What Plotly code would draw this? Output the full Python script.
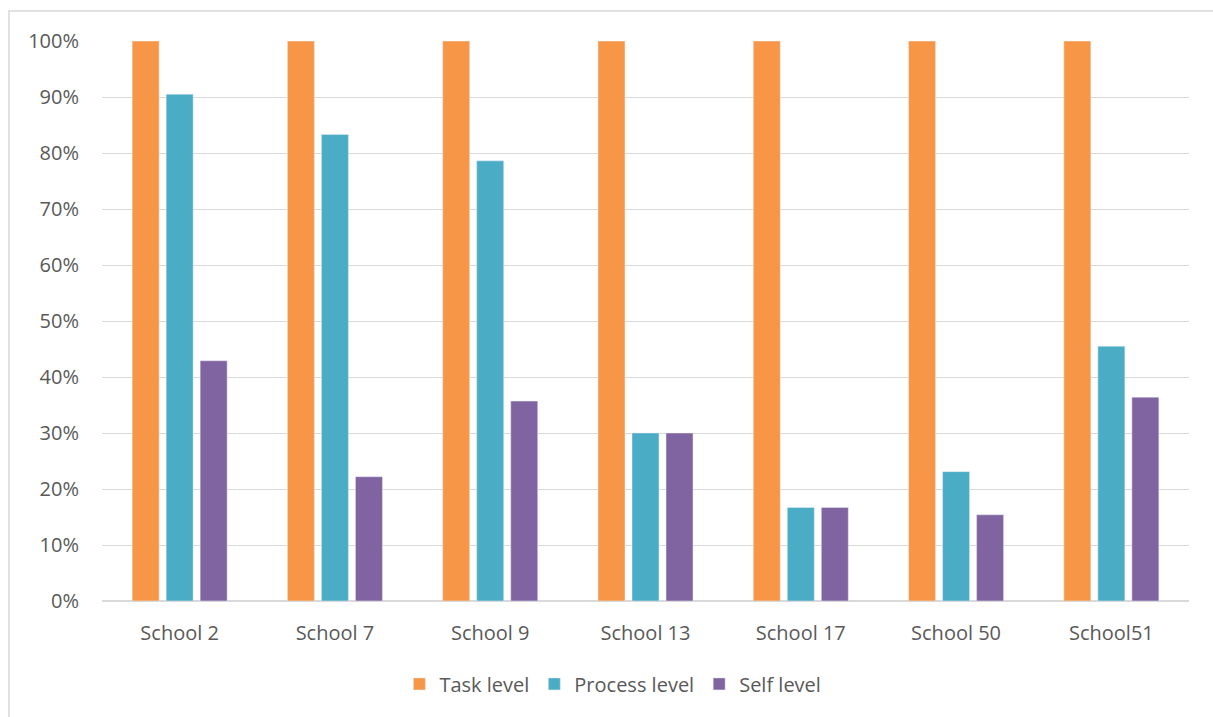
import plotly.graph_objects as go

categories = ["School 2", "School 7", "School 9", "School 13", "School 17", "School 50", "School51"]
task_level = [1.0, 1.0, 1.0, 1.0, 1.0, 1.0, 1.0]
process_level = [0.905, 0.833, 0.786, 0.30, 0.167, 0.231, 0.455]
self_level = [0.429, 0.222, 0.357, 0.30, 0.167, 0.154, 0.364]
tick_vals = [0, 0.1, 0.2, 0.3, 0.4, 0.5, 0.6, 0.7, 0.8, 0.9, 1.0]
tick_text = ["0%", "10%", "20%", "30%", "40%", "50%", "60%", "70%", "80%", "90%", "100%"]

fig = go.Figure()
fig.add_trace(go.Bar(name="Task level", x=categories, y=task_level, marker_color="#F79646"))
fig.add_trace(go.Bar(name="Process level", x=categories, y=process_level, marker_color="#4BACC6"))
fig.add_trace(go.Bar(name="Self level", x=categories, y=self_level, marker_color="#8064A2"))

font_family = "Open Sans, Liberation Sans, sans-serif"
fig.update_layout(
    width=1213, height=717,
    margin=dict(l=102, r=24, t=41, b=116),
    paper_bgcolor="white", plot_bgcolor="white",
    barmode="group", bargap=0.343, bargroupgap=0.206,
    font=dict(family=font_family, size=20, color="#595959"),
    showlegend=True,
    legend=dict(orientation="h", x=0.47, xanchor="center", y=-0.148, yanchor="middle",
                font=dict(size=20, color="#595959"), itemwidth=30, traceorder="normal"),
    xaxis=dict(showgrid=False, showline=False, ticks="", tickfont=dict(size=20, color="#595959")),
    yaxis=dict(range=[0, 1.0], tickvals=tick_vals, ticktext=tick_text,
               showgrid=True, gridcolor="#D9D9D9", gridwidth=1,
               zeroline=True, zerolinecolor="#D9D9D9", zerolinewidth=2,
               ticks="", ticklen=0, tickfont=dict(size=20, color="#595959")),
    shapes=[dict(type="rect", xref="paper", yref="paper",
                 x0=-0.0856, x1=1.05, y0=-0.25, y1=1.0536,
                 line=dict(color="#D9D9D9", width=1.5), fillcolor="rgba(0,0,0,0)", layer="below")],
)
fig.update_yaxes(ticklabelstandoff=22)
fig.update_xaxes(ticklabelstandoff=18)
fig.write_html("out.html")
